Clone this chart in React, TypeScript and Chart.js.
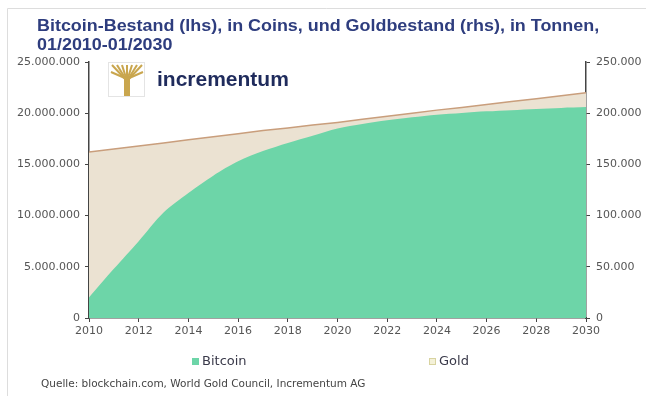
import React, { useEffect, useRef } from "react";
import { Chart, registerables } from "chart.js";

Chart.register(...registerables);

const years = [2010, 2011, 2012, 2013, 2014, 2015, 2016, 2017, 2018, 2019, 2020, 2021, 2022, 2023, 2024, 2025, 2026, 2027, 2028, 2029, 2030];
// Bitcoin supply, coins
const bitcoin = [2000000, 4800000, 7500000, 10300000, 12200000, 13900000, 15300000, 16300000, 17100000, 17800000, 18500000, 18950000, 19300000, 19600000, 19850000, 20030000, 20180000, 20300000, 20420000, 20520000, 20600000];
// Gold stock, tonnes
const gold = [162000, 165000, 168000, 171000, 174000, 177000, 180000, 183000, 185500, 188500, 191000, 194000, 197000, 200000, 203000, 205500, 208500, 211500, 214000, 217000, 220000];
const xTicks = [2010, 2012, 2014, 2016, 2018, 2020, 2022, 2024, 2026, 2028, 2030];
const leftTicks = [0, 5000000, 10000000, 15000000, 20000000, 25000000];
const rightTicks = [0, 50000, 100000, 150000, 200000, 250000];
const titleLines = ["Bitcoin-Bestand (lhs), in Coins, und Goldbestand (rhs), in Tonnen,", "01/2010-01/2030"];
const seriesNames = ["Bitcoin", "Gold"];
const sourceText = "Quelle: blockchain.com, World Gold Council, Incrementum AG";
const logoText = "incrementum";

const FONT = "'Liberation Sans', Arial, sans-serif";
const TICKFONT = "'DejaVu Sans', sans-serif";
const GREEN = "#6dd5a8";
const BEIGE = "#ebe2d2";
const GOLDLINE = "#c99e7c";

function stretchText(ctx: CanvasRenderingContext2D, t: string, x: number, y: number, sx: number) {
  ctx.save();
  ctx.translate(x, y);
  ctx.scale(sx, 1);
  ctx.fillText(t, 0, 0);
  ctx.restore();
}

const decorPlugin = {
  id: "decor",
  afterDraw(chart: any) {
    const ctx = chart.ctx as CanvasRenderingContext2D;
    ctx.save();
    // frame
    ctx.strokeStyle = "#dddddd";
    ctx.lineWidth = 1;
    ctx.beginPath();
    ctx.moveTo(7.5, 396);
    ctx.lineTo(7.5, 8.5);
    ctx.lineTo(646, 8.5);
    ctx.stroke();

    // title
    ctx.fillStyle = "#2e3d7e";
    ctx.font = `bold 16px ${FONT}`;
    ctx.textBaseline = "alphabetic";
    ctx.textAlign = "left";
    stretchText(ctx, titleLines[0], 37, 31, 1.12);
    stretchText(ctx, titleLines[1], 37, 50, 1.12);

    // logo icon
    const ix = 110, iy = 63;
    ctx.strokeStyle = "#e4e4e4";
    ctx.lineWidth = 1;
    ctx.strokeRect(ix - 1.5, iy - 0.5, 36, 34);
    ctx.strokeStyle = "#c9a64e";
    ctx.fillStyle = "#c9a64e";
    ctx.lineWidth = 2;
    const cx = ix + 17;
    ctx.fillRect(cx - 3, iy + 14, 6, 19);
    for (let i = -3; i <= 3; i++) {
      ctx.beginPath();
      ctx.moveTo(cx, iy + 18);
      ctx.lineTo(cx + i * 5, iy + 2);
      ctx.stroke();
    }
    ctx.beginPath();
    ctx.moveTo(cx, iy + 16);
    ctx.lineTo(ix + 1, iy + 9);
    ctx.moveTo(cx, iy + 16);
    ctx.lineTo(ix + 33, iy + 9);
    ctx.stroke();

    // logo text
    ctx.fillStyle = "#1f2b5c";
    ctx.font = `bold 21px ${FONT}`;
    ctx.fillText(logoText, 157, 86);

    // legend
    const colors = [GREEN, "#f4f1d8"];
    const lx = [192, 429];
    ctx.font = `13px ${TICKFONT}`;
    ctx.textBaseline = "middle";
    for (let i = 0; i < 2; i++) {
      ctx.fillStyle = colors[i];
      ctx.fillRect(lx[i], 358, 7, 7);
      if (i === 1) {
        ctx.strokeStyle = "#d8d3a0";
        ctx.lineWidth = 1;
        ctx.strokeRect(lx[i] + 0.5, 358.5, 6, 6);
      }
      ctx.fillStyle = "#3a3a4a";
      ctx.fillText(seriesNames[i], lx[i] + 10, 362);
    }

    // source
    ctx.fillStyle = "#444";
    ctx.font = `10.5px ${TICKFONT}`;
    ctx.fillText(sourceText, 41, 384);
    ctx.restore();
  },
};

export default function App() {
  const ref = useRef<HTMLCanvasElement | null>(null);
  useEffect(() => {
    document.body.style.margin = "0";
    const canvas = ref.current!;
    const tickFont = { family: TICKFONT, size: 11 };
    const chart = new Chart(canvas, {
      type: "line",
      data: {
        datasets: [
          {
            label: seriesNames[0],
            data: years.map((y, i) => ({ x: y, y: bitcoin[i] })),
            yAxisID: "y",
            backgroundColor: GREEN,
            borderWidth: 0,
            borderColor: GREEN,
            fill: "origin",
            pointRadius: 0,
            tension: 0.3,
          },
          {
            label: seriesNames[1],
            data: years.map((y, i) => ({ x: y, y: gold[i] })),
            yAxisID: "y1",
            backgroundColor: BEIGE,
            borderColor: GOLDLINE,
            borderWidth: 1.5,
            fill: "origin",
            pointRadius: 0,
            tension: 0,
          },
        ],
      },
      options: {
        animation: false,
        responsive: false,
        layout: { padding: { top: 62, left: 0, right: 0, bottom: 0 } },
        plugins: { legend: { display: false }, tooltip: { enabled: false }, title: { display: false } },
        scales: {
          x: {
            type: "linear",
            min: 2010,
            max: 2030,
            afterBuildTicks: (s: any) => {
              s.ticks = xTicks.map((v) => ({ value: v }));
            },
            afterFit: (s: any) => {
              s.height = 78;
            },
            ticks: {
              callback: (v: any) => String(v),
              font: tickFont,
              color: "#555",
              padding: 3,
              maxRotation: 0,
              autoSkip: false,
            },
            grid: { display: true, drawOnChartArea: false, drawTicks: true, tickLength: 4, color: "#444" },
            border: { display: true, color: "#444", width: 1.5 },
          },
          y: {
            position: "left",
            min: 0,
            max: 25000000,
            afterBuildTicks: (s: any) => {
              s.ticks = leftTicks.map((v) => ({ value: v }));
            },
            afterFit: (s: any) => {
              s.width = 89;
            },
            ticks: {
              callback: (v: any) => Number(v).toLocaleString("de-DE"),
              font: tickFont,
              color: "#555",
              padding: 5,
            },
            grid: { display: true, drawOnChartArea: false, drawTicks: true, tickLength: 4, color: "#444" },
            border: { display: true, color: "#444", width: 1.5 },
          },
          y1: {
            position: "right",
            min: 0,
            max: 250000,
            afterBuildTicks: (s: any) => {
              s.ticks = rightTicks.map((v) => ({ value: v }));
            },
            afterFit: (s: any) => {
              s.width = 60;
            },
            ticks: {
              callback: (v: any) => Number(v).toLocaleString("de-DE"),
              font: tickFont,
              color: "#555",
              padding: 6,
            },
            grid: { display: true, drawOnChartArea: false, drawTicks: true, tickLength: 4, color: "#444" },
            border: { display: true, color: "#444", width: 1.5 },
          },
        },
      },
      plugins: [decorPlugin],
    } as any);
    return () => chart.destroy();
  }, []);
  return (
    <div style={{ width: 646, height: 396, background: "#fff" }}>
      <canvas ref={ref} width={646} height={396} style={{ display: "block", width: 646, height: 396 }} />
    </div>
  );
}
